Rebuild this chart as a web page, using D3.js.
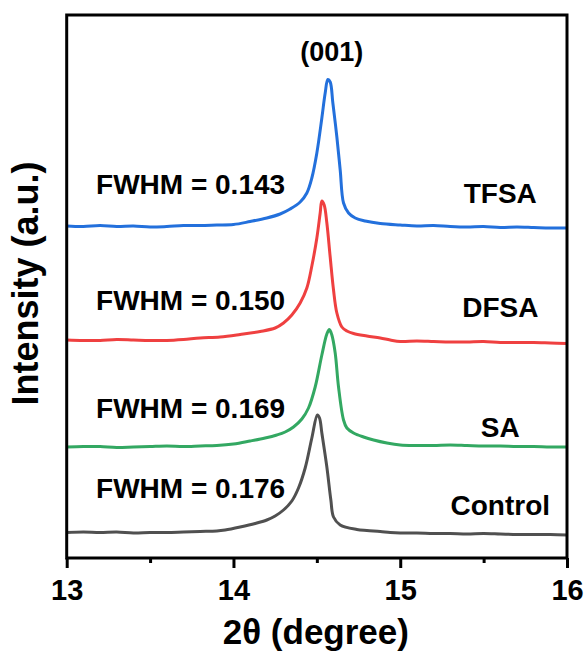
<!DOCTYPE html>
<html>
<head>
<meta charset="utf-8">
<script src="https://cdn.jsdelivr.net/npm/d3@7"></script>
<style>
  body { margin: 0; background: #fff; }
  text { font-family: "Liberation Sans", Arial, sans-serif; font-weight: bold; fill: #000; }
</style>
</head>
<body>
<svg id="chart" width="587" height="652"></svg>
<script>
// XRD (001) reflection, stacked patterns (intensity offset per sample, a.u.)
const samples = ["Control", "SA", "DFSA", "TFSA"];
const fwhmValues = ["0.176", "0.169", "0.150", "0.143"];
const xTickValues = [13, 14, 15, 16];
const peakLabel = "(001)";

const controlPattern = [
  [13.0, 25.5], [13.1, 26.0], [13.2, 25.5], [13.3, 26.0], [13.4, 25.0], [13.5, 25.5],
  [13.6, 25.5], [13.7, 26.0], [13.8, 26.5], [13.9, 27.0], [13.95, 28.0], [14.04, 31.0],
  [14.13, 34.5], [14.2, 38.0], [14.25, 42.0], [14.3, 48.0], [14.35, 57.0], [14.39, 70.0],
  [14.43, 90.0], [14.47, 120.0], [14.503, 143.0], [14.516, 140.0], [14.53, 125.0],
  [14.56, 91.0], [14.584, 58.0], [14.6, 41.0], [14.64, 33.0], [14.74, 28.5], [14.8, 27.5],
  [14.88, 26.5], [14.94, 25.5], [15.0, 25.0], [15.1, 25.0], [15.2, 24.5], [15.3, 24.5],
  [15.4, 24.0], [15.5, 24.5], [15.6, 24.0], [15.7, 23.5], [15.8, 23.5], [15.9, 23.5], [16.0, 23.0]
];

const saPattern = [
  [13.0, 111.0], [13.1, 111.5], [13.2, 111.5], [13.3, 110.5], [13.4, 111.0], [13.5, 111.5],
  [13.6, 112.0], [13.7, 111.5], [13.8, 112.0], [13.9, 112.5], [14.0, 114.0], [14.1, 117.0],
  [14.19, 120.0], [14.26, 123.0], [14.31, 126.0], [14.36, 131.0], [14.41, 139.0], [14.45, 150.0],
  [14.49, 171.0], [14.53, 203.0], [14.56, 224.0], [14.575, 228.5], [14.59, 223.0], [14.61, 205.0],
  [14.63, 171.0], [14.66, 138.0], [14.68, 130.0], [14.72, 125.0], [14.78, 121.0], [14.84, 118.0],
  [14.92, 115.0], [15.0, 113.0], [15.1, 112.5], [15.2, 112.5], [15.3, 113.0], [15.4, 112.5],
  [15.5, 112.0], [15.6, 112.0], [15.7, 111.5], [15.8, 111.5], [15.9, 111.0], [16.0, 111.0]
];

const dfsaPattern = [
  [13.0, 218.0], [13.1, 217.5], [13.2, 217.5], [13.3, 218.5], [13.4, 218.0], [13.5, 217.5],
  [13.6, 217.5], [13.7, 218.5], [13.8, 220.0], [13.92, 221.0], [14.04, 223.5], [14.16, 226.5],
  [14.25, 230.0], [14.3, 235.0], [14.35, 243.0], [14.4, 255.0], [14.44, 270.0], [14.47, 292.0],
  [14.5, 320.0], [14.52, 345.0], [14.53, 357.0], [14.544, 353.0], [14.56, 335.0],
  [14.58, 301.0], [14.6, 268.0], [14.62, 245.0], [14.65, 231.0], [14.68, 227.0], [14.72, 224.5],
  [14.8, 222.0], [14.88, 220.0], [14.94, 218.0], [15.0, 216.5], [15.1, 217.0], [15.2, 216.5],
  [15.3, 216.0], [15.4, 216.0], [15.5, 216.5], [15.6, 215.5], [15.7, 215.5], [15.8, 215.5],
  [15.9, 215.0], [16.0, 214.5]
];

const tfsaPattern = [
  [13.0, 332.0], [13.1, 331.5], [13.2, 332.5], [13.3, 331.5], [13.4, 332.0], [13.5, 331.0],
  [13.6, 331.5], [13.7, 332.5], [13.8, 332.5], [13.9, 333.0], [14.0, 333.5], [14.1, 336.5],
  [14.2, 340.0], [14.28, 344.0], [14.34, 349.0], [14.4, 356.0], [14.44, 365.0], [14.47, 380.0],
  [14.5, 405.0], [14.53, 440.0], [14.55, 465.0], [14.566, 478.5], [14.58, 476.0],
  [14.596, 455.0], [14.62, 421.0], [14.64, 388.0], [14.66, 355.0], [14.69, 345.0], [14.73, 340.0],
  [14.79, 337.0], [14.88, 334.5], [15.0, 333.0], [15.1, 332.0], [15.2, 332.5], [15.3, 331.5],
  [15.4, 331.0], [15.5, 331.5], [15.6, 330.5], [15.7, 331.0], [15.8, 330.5], [15.9, 330.0], [16.0, 330.0]
];

const patterns = [controlPattern, saPattern, dfsaPattern, tfsaPattern];
const colors = ["#505050", "#33a862", "#ef4040", "#2370dc"];

// ---- layout ----
const svg = d3.select("#chart");
const plot = { left: 66.7, right: 567, top: 15, bottom: 558 };

const x = d3.scaleLinear().domain([13, 16]).range([plot.left, plot.right]);
const y = d3.scaleLinear().domain([0, 543]).range([plot.bottom, plot.top]);

// curves
const line = d3.line()
  .x(d => x(d[0]))
  .y(d => y(d[1]))
  .curve(d3.curveCatmullRom.alpha(0.5));

svg.append("g")
  .selectAll("path")
  .data(patterns)
  .join("path")
  .attr("d", line)
  .attr("fill", "none")
  .attr("stroke", (d, i) => colors[i])
  .attr("stroke-width", 3)
  .attr("stroke-linejoin", "round");

// frame
svg.append("rect")
  .attr("x", plot.left).attr("y", plot.top)
  .attr("width", plot.right - plot.left).attr("height", plot.bottom - plot.top)
  .attr("fill", "none").attr("stroke", "#000").attr("stroke-width", 3);

// bottom axis: major and minor ticks
const xAxis = d3.axisBottom(x).tickValues(xTickValues).tickFormat(d3.format("d"))
  .tickSize(10).tickPadding(11);
const gx = svg.append("g").attr("transform", `translate(0,${plot.bottom})`).call(xAxis);
gx.select(".domain").remove();
gx.selectAll(".tick line").attr("stroke", "#000").attr("stroke-width", 3);
gx.selectAll(".tick text").attr("font-size", 29).attr("font-weight", "bold")
  .attr("font-family", "Liberation Sans, Arial, sans-serif").attr("fill", "#000");

const minor = d3.axisBottom(x).tickValues([13.5, 14.5, 15.5]).tickSize(5).tickFormat("");
const gm = svg.append("g").attr("transform", `translate(0,${plot.bottom})`).call(minor);
gm.select(".domain").remove();
gm.selectAll(".tick line").attr("stroke", "#000").attr("stroke-width", 3);

// axis titles
svg.append("text")
  .attr("x", (plot.left + plot.right) / 2 - 1).attr("y", 644)
  .attr("text-anchor", "middle").attr("font-size", 35)
  .text("2θ (degree)");

svg.append("text")
  .attr("transform", `translate(38,${(plot.top + plot.bottom) / 2 - 3}) rotate(-90)`)
  .attr("text-anchor", "middle").attr("font-size", 36)
  .text("Intensity (a.u.)");

// peak index
svg.append("text")
  .attr("x", x(14.59)).attr("y", 61)
  .attr("text-anchor", "middle").attr("font-size", 27)
  .text(peakLabel);

// per-sample annotations: FWHM on the left, sample name on the right
const fwhmY = [60, 140.5, 248.5, 364];
const nameY = [43, 121, 241, 355];
samples.forEach((s, i) => {
  svg.append("text")
    .attr("x", x(13.176)).attr("y", y(fwhmY[i]))
    .attr("font-size", 28)
    .text(`FWHM = ${fwhmValues[i]}`);
  svg.append("text")
    .attr("x", x(15.6)).attr("y", y(nameY[i]))
    .attr("text-anchor", "middle").attr("font-size", 28)
    .text(s);
});
</script>
</body>
</html>
